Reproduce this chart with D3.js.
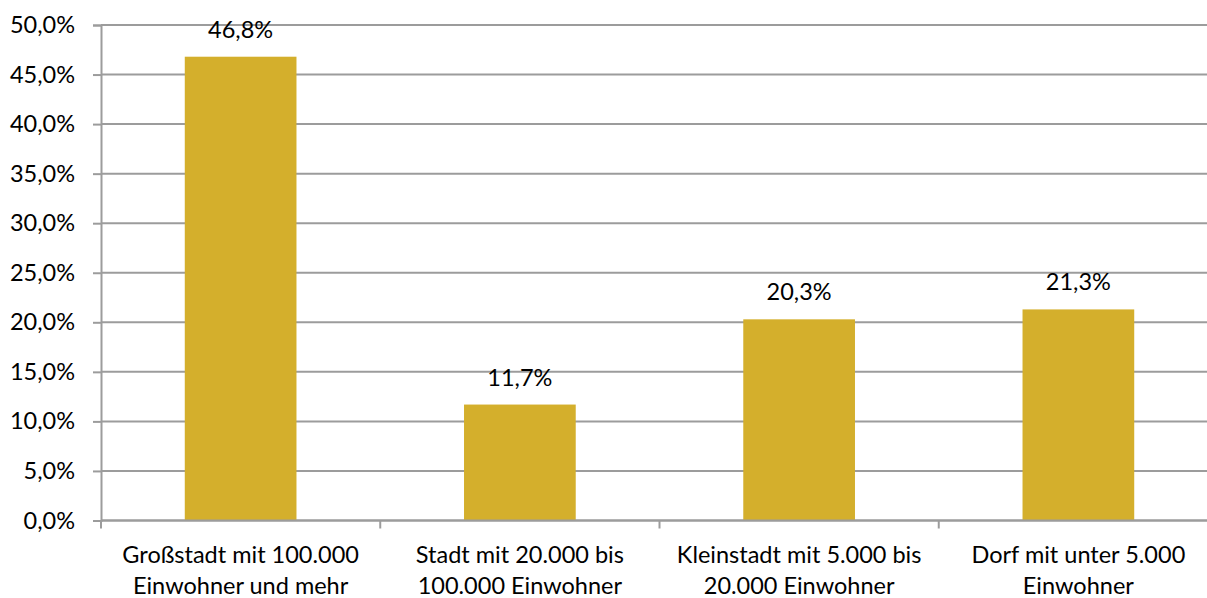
<!DOCTYPE html>
<html>
<head>
<meta charset="utf-8">
<script src="https://cdn.jsdelivr.net/npm/d3@7/dist/d3.min.js"></script>
<style>
  html, body { margin: 0; padding: 0; background: #fff; }
  svg { display: block; }
  text { font-family: Lato, "Open Sans", sans-serif; fill: #000; }
</style>
</head>
<body>
<svg id="chart" width="1207" height="598"></svg>
<script>
// Anteil nach Wohnortgröße
const categories = [
  ["Großstadt mit 100.000", "Einwohner und mehr"],
  ["Stadt mit 20.000 bis", "100.000 Einwohner"],
  ["Kleinstadt mit 5.000 bis", "20.000 Einwohner"],
  ["Dorf mit unter 5.000", "Einwohner"]
];
const values = [46.8, 11.7, 20.3, 21.3];
const yTicks = [0, 5, 10, 15, 20, 25, 30, 35, 40, 45, 50];

const fmt = v => v.toFixed(1).replace(".", ",") + "%";

const svg = d3.select("#chart");
const plotLeft = 101, plotRight = 1218, plotTop = 25, plotBottom = 520.5;
const gridColor = "#9c9c9c";
const fontSize = 23.5;

const x = d3.scaleBand()
  .domain(d3.range(categories.length))
  .range([plotLeft, plotRight])
  .paddingInner(0.6)
  .paddingOuter(0.3);

const y = d3.scaleLinear().domain([0, 50]).range([plotBottom, plotTop]);

// horizontal gridlines
svg.append("g")
  .selectAll("line")
  .data(yTicks)
  .join("line")
  .attr("x1", plotLeft).attr("x2", plotRight)
  .attr("y1", d => y(d)).attr("y2", d => y(d))
  .attr("stroke", gridColor).attr("stroke-width", 2);

// bars
svg.append("g")
  .selectAll("rect")
  .data(values)
  .join("rect")
  .attr("x", (d, i) => x(i))
  .attr("width", x.bandwidth())
  .attr("y", d => y(d))
  .attr("height", d => y(0) - y(d))
  .attr("fill", "#D4AF2C");

// value labels
svg.append("g")
  .selectAll("text")
  .data(values)
  .join("text")
  .attr("x", (d, i) => x(i) + x.bandwidth() / 2)
  .attr("y", d => y(d) - 19)
  .attr("text-anchor", "middle")
  .attr("font-size", fontSize)
  .text(fmt);

// y axis
const yAxis = d3.axisLeft(y).tickValues(yTicks).tickFormat(fmt).tickSize(8).tickPadding(18);
const gy = svg.append("g").attr("transform", `translate(${plotLeft},0)`).call(yAxis);
gy.select(".domain").attr("stroke", gridColor).attr("stroke-width", 2);
gy.selectAll(".tick line").attr("stroke", gridColor).attr("stroke-width", 2);
gy.selectAll(".tick text").attr("font-size", fontSize).attr("font-family", "Lato, 'Open Sans', sans-serif").attr("fill", "#000");

// x axis line with tick marks between categories
const nCat = categories.length;
const xLine = svg.append("g");
xLine.append("line")
  .attr("x1", plotLeft).attr("x2", plotRight)
  .attr("y1", plotBottom).attr("y2", plotBottom)
  .attr("stroke", gridColor).attr("stroke-width", 2);
xLine.selectAll("line.tick")
  .data(d3.range(nCat + 1))
  .join("line")
  .attr("class", "tick")
  .attr("x1", i => plotLeft + i * (plotRight - plotLeft) / nCat)
  .attr("x2", i => plotLeft + i * (plotRight - plotLeft) / nCat)
  .attr("y1", plotBottom).attr("y2", plotBottom + 8)
  .attr("stroke", gridColor).attr("stroke-width", 2);

// category labels (two lines each)
const cat = svg.append("g")
  .selectAll("text")
  .data(categories)
  .join("text")
  .attr("text-anchor", "middle")
  .attr("font-size", fontSize)
  .attr("x", (d, i) => x(i) + x.bandwidth() / 2);
cat.selectAll("tspan")
  .data(d => d)
  .join("tspan")
  .attr("x", function () { return d3.select(this.parentNode).attr("x"); })
  .attr("y", (d, j) => 563 + j * 31)
  .text(d => d);
</script>
</body>
</html>
